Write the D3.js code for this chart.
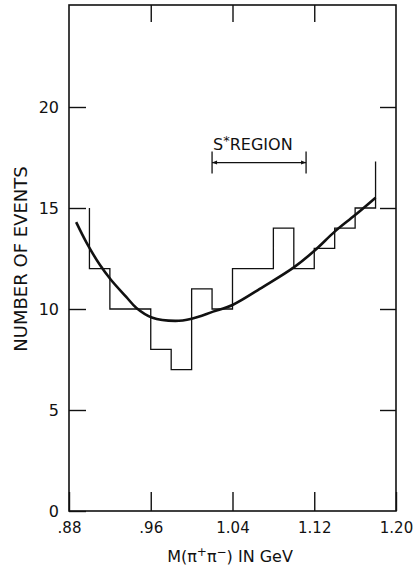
<!DOCTYPE html>
<html>
<head>
<meta charset="utf-8">
<script src="https://cdn.jsdelivr.net/npm/d3@7"></script>
<style>
  body { margin: 0; background: #fff; }
  svg text { font-family: "DejaVu Sans", sans-serif; fill: #111; }
</style>
</head>
<body>
<div id="chart"></div>
<script>
// histogram bins (lower edges, GeV) and counts
var binEdges = [0.88, 0.90, 0.92, 0.94, 0.96, 0.98, 1.00, 1.02, 1.04, 1.06, 1.08, 1.10, 1.12, 1.14, 1.16, 1.18];
var counts   = [15,   12,   10,   10,   8,    7,    11,   10,   12,   12,   14,   12,   13,   14,   15,   17.3];
var binWidth = 0.02;

// fitted curve
var fitX = [0.887, 0.897, 0.910, 0.921, 0.936, 0.946, 0.961, 0.984, 1.000, 1.021, 1.040, 1.070, 1.100, 1.121, 1.140, 1.160, 1.180];
var fitY = [14.3,  13.3,  12.2,  11.45, 10.6,  10.05, 9.58,  9.41,  9.52,  9.87,  10.2,  11.1,  12.06, 12.92, 13.83, 14.65, 15.51];

var xTicks = [0.88, 0.96, 1.04, 1.12, 1.20];
var yTicks = [0, 5, 10, 15, 20];
var regionRange = [1.02, 1.112];   // S* region bracket
var regionLevel = 17.25;

var w = 415, h = 571;
var mLeft = 69, mRight = 396, mTop = 5, mBottom = 511;

var svg = d3.select("#chart").append("svg")
    .attr("width", w)
    .attr("height", h);

var x = d3.scaleLinear().domain([0.88, 1.20]).range([mLeft, mRight]);
var y = d3.scaleLinear().domain([0, 25]).range([mBottom, 6]);

var fmt = function(d) { return d < 1 ? d.toFixed(2).slice(1) : d.toFixed(2); };

// bottom axis: inward ticks, labels below
var gx = svg.append("g")
    .attr("transform", "translate(0," + mBottom + ")")
    .call(d3.axisBottom(x).tickValues(xTicks).tickFormat(fmt).tickSize(-19).tickPadding(8));
gx.select(".domain").remove();
gx.selectAll("line").attr("stroke", "#111").attr("stroke-width", 1.4);
gx.selectAll("text").attr("y", 22).attr("dy", null).style("font-size", "15px");

// left axis
var gy = svg.append("g")
    .attr("transform", "translate(" + mLeft + ",0)")
    .call(d3.axisLeft(y).tickValues(yTicks).tickSize(-17).tickPadding(10));
gy.select(".domain").remove();
gy.selectAll("line").attr("stroke", "#111").attr("stroke-width", 1.4);
gy.selectAll("text").style("font-size", "16px");

// top and right ticks, no labels
var gt = svg.append("g")
    .attr("transform", "translate(0," + mTop + ")")
    .call(d3.axisTop(x).tickValues([0.96, 1.04, 1.12]).tickFormat("").tickSize(-17));
gt.select(".domain").remove();
gt.selectAll("line").attr("stroke", "#111").attr("stroke-width", 1.4);

var gr = svg.append("g")
    .attr("transform", "translate(" + mRight + ",0)")
    .call(d3.axisRight(y).tickValues([5, 10, 15, 20]).tickFormat("").tickSize(-16));
gr.select(".domain").remove();
gr.selectAll("line").attr("stroke", "#111").attr("stroke-width", 1.4);

// frame
svg.append("rect")
    .attr("x", mLeft).attr("y", mTop)
    .attr("width", mRight - mLeft).attr("height", mBottom - mTop)
    .attr("fill", "none")
    .attr("stroke", "#111")
    .attr("stroke-width", 1.6);

// histogram outline (first bin shows as its right edge, last as its left edge)
var pts = [[binEdges[1], counts[0]]];
for (var i = 1; i < counts.length - 1; i++) {
    pts.push([binEdges[i], counts[i]]);
    pts.push([binEdges[i] + binWidth, counts[i]]);
}
pts.push([binEdges[counts.length - 1], counts[counts.length - 1]]);

svg.append("path")
    .datum(pts)
    .attr("d", d3.line().x(function(d) { return x(d[0]); }).y(function(d) { return y(d[1]); }))
    .attr("fill", "none")
    .attr("stroke", "#111")
    .attr("stroke-width", 1.3);

// fit curve
var fit = fitX.map(function(v, i) { return [v, fitY[i]]; });
svg.append("path")
    .datum(fit)
    .attr("d", d3.line().curve(d3.curveCatmullRom)
        .x(function(d) { return x(d[0]); }).y(function(d) { return y(d[1]); }))
    .attr("fill", "none")
    .attr("stroke", "#111")
    .attr("stroke-width", 2.6);

// S* region bracket
var defs = svg.append("defs");
defs.append("marker")
    .attr("id", "arr")
    .attr("viewBox", "0 0 10 10")
    .attr("refX", 10).attr("refY", 5)
    .attr("markerWidth", 6).attr("markerHeight", 5)
    .attr("markerUnits", "userSpaceOnUse")
    .attr("orient", "auto-start-reverse")
    .append("path").attr("d", "M0,1 L10,5 L0,9 Z").attr("fill", "#111");

var by = y(regionLevel);
svg.append("line")
    .attr("x1", x(regionRange[0])).attr("x2", x(regionRange[1]))
    .attr("y1", by).attr("y2", by)
    .attr("stroke", "#111").attr("stroke-width", 1.2)
    .attr("marker-start", "url(#arr)")
    .attr("marker-end", "url(#arr)");
svg.selectAll(".cap")
    .data(regionRange)
    .enter().append("line")
    .attr("class", "cap")
    .attr("x1", function(d) { return x(d); }).attr("x2", function(d) { return x(d); })
    .attr("y1", by - 11).attr("y2", by + 11)
    .attr("stroke", "#111").attr("stroke-width", 1.3);

var lab = svg.append("text")
    .attr("x", x(regionRange[0]) + 1)
    .attr("y", 150)
    .style("font-size", "16px");
lab.append("tspan").text("S");
lab.append("tspan").attr("dy", -5).style("font-size", "13px").text("*");
lab.append("tspan").attr("dy", 5).text("REGION");

// axis titles
var xt = svg.append("text")
    .attr("x", 230)
    .attr("y", 562)
    .attr("text-anchor", "middle")
    .style("font-size", "16px");
xt.append("tspan").text("M(\u03c0");
xt.append("tspan").attr("dy", -6).style("font-size", "12px").text("+");
xt.append("tspan").attr("dy", 6).text("\u03c0");
xt.append("tspan").attr("dy", -6).style("font-size", "12px").text("\u2212");
xt.append("tspan").attr("dy", 6).text(") IN GeV");

svg.append("text")
    .attr("transform", "translate(27,259) rotate(-90)")
    .attr("text-anchor", "middle")
    .style("font-size", "18px")
    .text("NUMBER OF EVENTS");
</script>
</body>
</html>
